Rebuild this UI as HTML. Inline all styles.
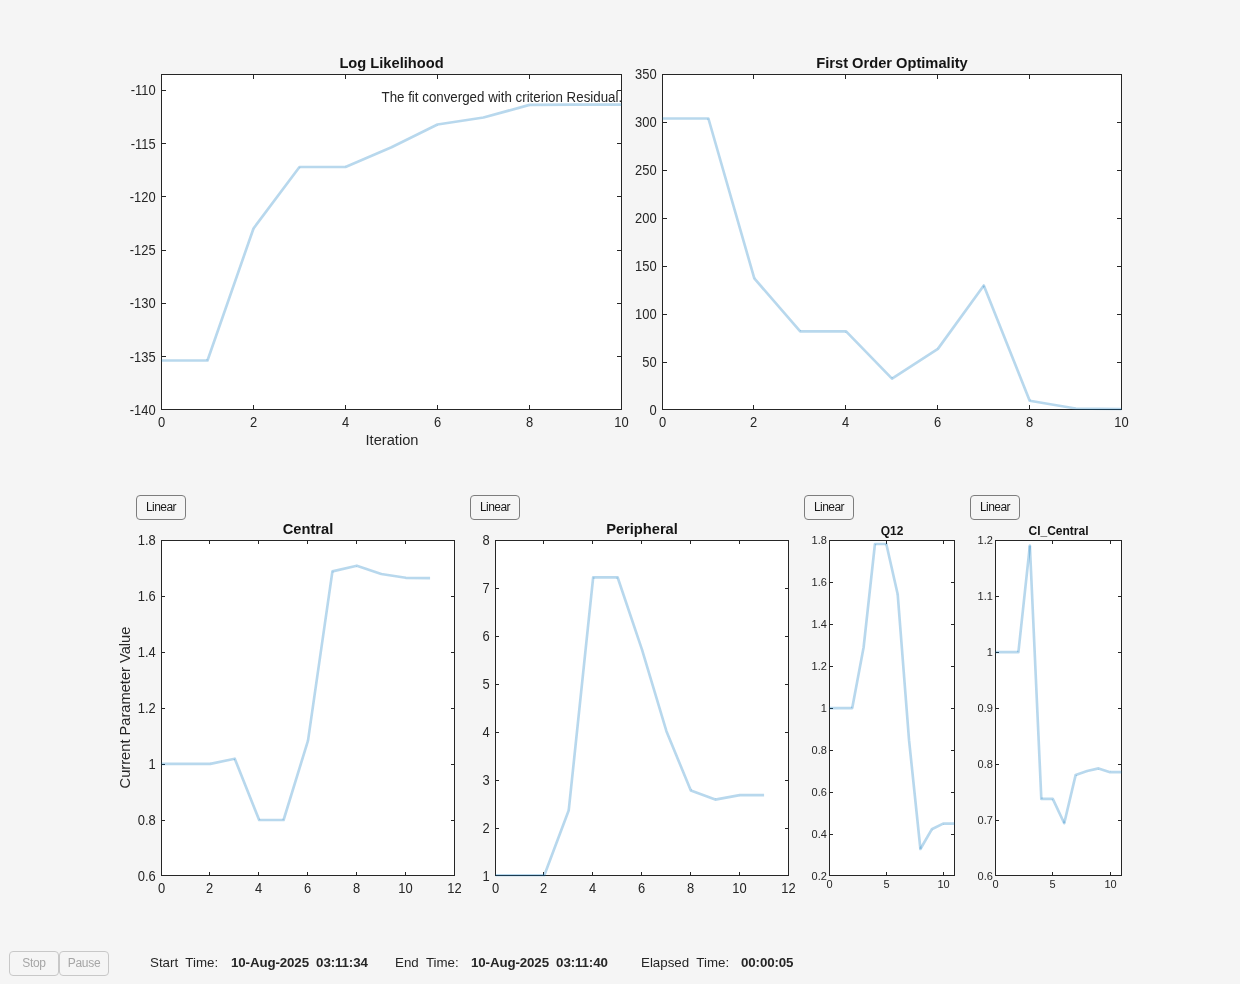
<!DOCTYPE html>
<html><head><meta charset="utf-8"><title>Fit Progress</title>
<style>
html,body{margin:0;padding:0;}
body{width:1240px;height:984px;background:#f5f5f5;position:relative;overflow:hidden;font-family:'Liberation Sans', Arial, Helvetica, sans-serif;}
.btn{position:absolute;box-sizing:border-box;height:25px;width:50px;border:1px solid #7d7d7d;border-radius:4px;background:#f5f5f5;
 font-size:12px;letter-spacing:-0.55px;color:#1a1a1a;display:flex;align-items:center;justify-content:center;top:495px;padding-bottom:2px;}
.dbtn{position:absolute;box-sizing:border-box;height:25px;width:50px;border:1px solid #c8c8c8;border-radius:4px;background:#f5f5f5;
 font-size:12px;letter-spacing:-0.3px;color:#a6a6a6;display:flex;align-items:center;justify-content:center;top:951px;padding-bottom:2px;}
.lbl{position:absolute;top:952.5px;font-size:13.33px;color:#262626;white-space:pre;line-height:20px;}
.val{font-weight:bold;letter-spacing:-0.12px;}
.ui{position:absolute;left:0;top:0;width:1240px;height:984px;will-change:transform;}
</style></head>
<body>
<svg width="1240" height="984" viewBox="0 0 1240 984" style="position:absolute;left:0;top:0;will-change:transform" font-family="'Liberation Sans', Arial, Helvetica, sans-serif"><defs><clipPath id="cll"><rect x="160.5" y="73.5" width="462.0" height="337.0"/></clipPath><clipPath id="cfo"><rect x="661.5" y="73.5" width="461.0" height="337.0"/></clipPath><clipPath id="cce"><rect x="160.5" y="539.5" width="295.0" height="337.0"/></clipPath><clipPath id="cpe"><rect x="494.5" y="539.5" width="295.0" height="337.0"/></clipPath><clipPath id="cq12"><rect x="828.5" y="539.5" width="127.0" height="337.0"/></clipPath><clipPath id="cci"><rect x="994.5" y="539.5" width="128.0" height="337.0"/></clipPath><clipPath id="cann"><rect x="161.5" y="74.5" width="459.5" height="335"/></clipPath></defs><rect x="161.5" y="74.5" width="460.0" height="335.0" fill="#fff"/><path d="M253.5 409.5v-4.5M253.5 74.5v4.5M345.5 409.5v-4.5M345.5 74.5v4.5M437.5 409.5v-4.5M437.5 74.5v4.5M529.5 409.5v-4.5M529.5 74.5v4.5M161.5 356.5h4.5M621.5 356.5h-4.5M161.5 303.5h4.5M621.5 303.5h-4.5M161.5 250.5h4.5M621.5 250.5h-4.5M161.5 196.5h4.5M621.5 196.5h-4.5M161.5 143.5h4.5M621.5 143.5h-4.5M161.5 90.5h4.5M621.5 90.5h-4.5" stroke="#262626" stroke-width="1" fill="none"/><rect x="161.5" y="74.5" width="460.0" height="335.0" fill="none" stroke="#262626" stroke-width="1"/><g font-size="13.33" fill="#262626"><text transform="translate(161.50 427.00) scale(0.97 1.07)" text-anchor="middle">0</text><text transform="translate(253.50 427.00) scale(0.97 1.07)" text-anchor="middle">2</text><text transform="translate(345.50 427.00) scale(0.97 1.07)" text-anchor="middle">4</text><text transform="translate(437.50 427.00) scale(0.97 1.07)" text-anchor="middle">6</text><text transform="translate(529.50 427.00) scale(0.97 1.07)" text-anchor="middle">8</text><text transform="translate(621.50 427.00) scale(0.97 1.07)" text-anchor="middle">10</text><text transform="translate(155.70 414.80) scale(0.97 1.07)" text-anchor="end">-140</text><text transform="translate(155.70 361.55) scale(0.97 1.07)" text-anchor="end">-135</text><text transform="translate(155.70 308.29) scale(0.97 1.07)" text-anchor="end">-130</text><text transform="translate(155.70 255.04) scale(0.97 1.07)" text-anchor="end">-125</text><text transform="translate(155.70 201.78) scale(0.97 1.07)" text-anchor="end">-120</text><text transform="translate(155.70 148.53) scale(0.97 1.07)" text-anchor="end">-115</text><text transform="translate(155.70 95.28) scale(0.97 1.07)" text-anchor="end">-110</text></g><text x="391.50" y="67.80" text-anchor="middle" font-size="14.67" font-weight="bold" fill="#141414">Log Likelihood</text><rect x="662.5" y="74.5" width="459.0" height="335.0" fill="#fff"/><path d="M753.5 409.5v-4.5M753.5 74.5v4.5M845.5 409.5v-4.5M845.5 74.5v4.5M937.5 409.5v-4.5M937.5 74.5v4.5M1029.5 409.5v-4.5M1029.5 74.5v4.5M662.5 362.5h4.5M1121.5 362.5h-4.5M662.5 314.5h4.5M1121.5 314.5h-4.5M662.5 266.5h4.5M1121.5 266.5h-4.5M662.5 218.5h4.5M1121.5 218.5h-4.5M662.5 170.5h4.5M1121.5 170.5h-4.5M662.5 122.5h4.5M1121.5 122.5h-4.5" stroke="#262626" stroke-width="1" fill="none"/><rect x="662.5" y="74.5" width="459.0" height="335.0" fill="none" stroke="#262626" stroke-width="1"/><g font-size="13.33" fill="#262626"><text transform="translate(662.50 427.00) scale(0.97 1.07)" text-anchor="middle">0</text><text transform="translate(753.50 427.00) scale(0.97 1.07)" text-anchor="middle">2</text><text transform="translate(845.50 427.00) scale(0.97 1.07)" text-anchor="middle">4</text><text transform="translate(937.50 427.00) scale(0.97 1.07)" text-anchor="middle">6</text><text transform="translate(1029.50 427.00) scale(0.97 1.07)" text-anchor="middle">8</text><text transform="translate(1121.50 427.00) scale(0.97 1.07)" text-anchor="middle">10</text><text transform="translate(656.70 414.80) scale(0.97 1.07)" text-anchor="end">0</text><text transform="translate(656.70 366.87) scale(0.97 1.07)" text-anchor="end">50</text><text transform="translate(656.70 318.94) scale(0.97 1.07)" text-anchor="end">100</text><text transform="translate(656.70 271.01) scale(0.97 1.07)" text-anchor="end">150</text><text transform="translate(656.70 223.09) scale(0.97 1.07)" text-anchor="end">200</text><text transform="translate(656.70 175.16) scale(0.97 1.07)" text-anchor="end">250</text><text transform="translate(656.70 127.23) scale(0.97 1.07)" text-anchor="end">300</text><text transform="translate(656.70 79.30) scale(0.97 1.07)" text-anchor="end">350</text></g><text x="892.00" y="67.80" text-anchor="middle" font-size="14.67" font-weight="bold" fill="#141414">First Order Optimality</text><rect x="161.5" y="540.5" width="293.0" height="335.0" fill="#fff"/><path d="M209.5 875.5v-3.5M209.5 540.5v3.5M258.5 875.5v-3.5M258.5 540.5v3.5M307.5 875.5v-3.5M307.5 540.5v3.5M356.5 875.5v-3.5M356.5 540.5v3.5M405.5 875.5v-3.5M405.5 540.5v3.5M161.5 820.5h3.5M454.5 820.5h-3.5M161.5 764.5h3.5M454.5 764.5h-3.5M161.5 708.5h3.5M454.5 708.5h-3.5M161.5 652.5h3.5M454.5 652.5h-3.5M161.5 596.5h3.5M454.5 596.5h-3.5" stroke="#262626" stroke-width="1" fill="none"/><rect x="161.5" y="540.5" width="293.0" height="335.0" fill="none" stroke="#262626" stroke-width="1"/><g font-size="13.33" fill="#262626"><text transform="translate(161.50 893.00) scale(0.97 1.07)" text-anchor="middle">0</text><text transform="translate(209.50 893.00) scale(0.97 1.07)" text-anchor="middle">2</text><text transform="translate(258.50 893.00) scale(0.97 1.07)" text-anchor="middle">4</text><text transform="translate(307.50 893.00) scale(0.97 1.07)" text-anchor="middle">6</text><text transform="translate(356.50 893.00) scale(0.97 1.07)" text-anchor="middle">8</text><text transform="translate(405.50 893.00) scale(0.97 1.07)" text-anchor="middle">10</text><text transform="translate(454.50 893.00) scale(0.97 1.07)" text-anchor="middle">12</text><text transform="translate(155.70 880.80) scale(0.97 1.07)" text-anchor="end">0.6</text><text transform="translate(155.70 824.88) scale(0.97 1.07)" text-anchor="end">0.8</text><text transform="translate(155.70 768.97) scale(0.97 1.07)" text-anchor="end">1</text><text transform="translate(155.70 713.05) scale(0.97 1.07)" text-anchor="end">1.2</text><text transform="translate(155.70 657.13) scale(0.97 1.07)" text-anchor="end">1.4</text><text transform="translate(155.70 601.22) scale(0.97 1.07)" text-anchor="end">1.6</text><text transform="translate(155.70 545.30) scale(0.97 1.07)" text-anchor="end">1.8</text></g><text x="308.00" y="533.80" text-anchor="middle" font-size="14.67" font-weight="bold" fill="#141414">Central</text><rect x="495.5" y="540.5" width="293.0" height="335.0" fill="#fff"/><path d="M543.5 875.5v-3.5M543.5 540.5v3.5M592.5 875.5v-3.5M592.5 540.5v3.5M641.5 875.5v-3.5M641.5 540.5v3.5M690.5 875.5v-3.5M690.5 540.5v3.5M739.5 875.5v-3.5M739.5 540.5v3.5M495.5 828.5h3.5M788.5 828.5h-3.5M495.5 780.5h3.5M788.5 780.5h-3.5M495.5 732.5h3.5M788.5 732.5h-3.5M495.5 684.5h3.5M788.5 684.5h-3.5M495.5 636.5h3.5M788.5 636.5h-3.5M495.5 588.5h3.5M788.5 588.5h-3.5" stroke="#262626" stroke-width="1" fill="none"/><rect x="495.5" y="540.5" width="293.0" height="335.0" fill="none" stroke="#262626" stroke-width="1"/><g font-size="13.33" fill="#262626"><text transform="translate(495.50 893.00) scale(0.97 1.07)" text-anchor="middle">0</text><text transform="translate(543.50 893.00) scale(0.97 1.07)" text-anchor="middle">2</text><text transform="translate(592.50 893.00) scale(0.97 1.07)" text-anchor="middle">4</text><text transform="translate(641.50 893.00) scale(0.97 1.07)" text-anchor="middle">6</text><text transform="translate(690.50 893.00) scale(0.97 1.07)" text-anchor="middle">8</text><text transform="translate(739.50 893.00) scale(0.97 1.07)" text-anchor="middle">10</text><text transform="translate(788.50 893.00) scale(0.97 1.07)" text-anchor="middle">12</text><text transform="translate(489.70 880.80) scale(0.97 1.07)" text-anchor="end">1</text><text transform="translate(489.70 832.87) scale(0.97 1.07)" text-anchor="end">2</text><text transform="translate(489.70 784.94) scale(0.97 1.07)" text-anchor="end">3</text><text transform="translate(489.70 737.01) scale(0.97 1.07)" text-anchor="end">4</text><text transform="translate(489.70 689.09) scale(0.97 1.07)" text-anchor="end">5</text><text transform="translate(489.70 641.16) scale(0.97 1.07)" text-anchor="end">6</text><text transform="translate(489.70 593.23) scale(0.97 1.07)" text-anchor="end">7</text><text transform="translate(489.70 545.30) scale(0.97 1.07)" text-anchor="end">8</text></g><text x="642.00" y="533.80" text-anchor="middle" font-size="14.67" font-weight="bold" fill="#141414">Peripheral</text><rect x="829.5" y="540.5" width="125.0" height="335.0" fill="#fff"/><path d="M886.5 875.5v-3.5M886.5 540.5v3.5M943.5 875.5v-3.5M943.5 540.5v3.5M829.5 834.5h3.5M954.5 834.5h-3.5M829.5 792.5h3.5M954.5 792.5h-3.5M829.5 750.5h3.5M954.5 750.5h-3.5M829.5 708.5h3.5M954.5 708.5h-3.5M829.5 666.5h3.5M954.5 666.5h-3.5M829.5 624.5h3.5M954.5 624.5h-3.5M829.5 582.5h3.5M954.5 582.5h-3.5" stroke="#262626" stroke-width="1" fill="none"/><rect x="829.5" y="540.5" width="125.0" height="335.0" fill="none" stroke="#262626" stroke-width="1"/><g font-size="11" fill="#262626"><text transform="translate(829.50 887.70)" text-anchor="middle">0</text><text transform="translate(886.50 887.70)" text-anchor="middle">5</text><text transform="translate(943.50 887.70)" text-anchor="middle">10</text><text transform="translate(826.90 879.90)" text-anchor="end">0.2</text><text transform="translate(826.90 837.96)" text-anchor="end">0.4</text><text transform="translate(826.90 796.02)" text-anchor="end">0.6</text><text transform="translate(826.90 754.09)" text-anchor="end">0.8</text><text transform="translate(826.90 712.15)" text-anchor="end">1</text><text transform="translate(826.90 670.21)" text-anchor="end">1.2</text><text transform="translate(826.90 628.27)" text-anchor="end">1.4</text><text transform="translate(826.90 586.34)" text-anchor="end">1.6</text><text transform="translate(826.90 544.40)" text-anchor="end">1.8</text></g><text x="892.00" y="534.50" text-anchor="middle" font-size="12" font-weight="bold" fill="#141414">Q12</text><rect x="995.5" y="540.5" width="126.0" height="335.0" fill="#fff"/><path d="M1052.5 875.5v-3.5M1052.5 540.5v3.5M1110.5 875.5v-3.5M1110.5 540.5v3.5M995.5 820.5h3.5M1121.5 820.5h-3.5M995.5 764.5h3.5M1121.5 764.5h-3.5M995.5 708.5h3.5M1121.5 708.5h-3.5M995.5 652.5h3.5M1121.5 652.5h-3.5M995.5 596.5h3.5M1121.5 596.5h-3.5" stroke="#262626" stroke-width="1" fill="none"/><rect x="995.5" y="540.5" width="126.0" height="335.0" fill="none" stroke="#262626" stroke-width="1"/><g font-size="11" fill="#262626"><text transform="translate(995.50 887.70)" text-anchor="middle">0</text><text transform="translate(1052.50 887.70)" text-anchor="middle">5</text><text transform="translate(1110.50 887.70)" text-anchor="middle">10</text><text transform="translate(992.90 879.90)" text-anchor="end">0.6</text><text transform="translate(992.90 823.98)" text-anchor="end">0.7</text><text transform="translate(992.90 768.07)" text-anchor="end">0.8</text><text transform="translate(992.90 712.15)" text-anchor="end">0.9</text><text transform="translate(992.90 656.23)" text-anchor="end">1</text><text transform="translate(992.90 600.32)" text-anchor="end">1.1</text><text transform="translate(992.90 544.40)" text-anchor="end">1.2</text></g><text x="1058.50" y="534.50" text-anchor="middle" font-size="12" font-weight="bold" fill="#141414">CI_Central</text><g clip-path="url(#cann)"><text transform="translate(381.5 101.8) scale(1 1.07)" font-size="13.33" fill="#262626">The fit converged with criterion Residual.</text></g><g clip-path="url(#cll)"><polyline points="161.50,360.50 207.50,360.50 253.50,228.50 299.50,167.00 345.50,167.00 391.50,147.20 437.50,124.50 483.50,117.50 529.50,104.90 575.50,104.60 621.50,104.60" fill="none" stroke="#0072BD" stroke-opacity="0.28" stroke-width="2.67" stroke-linejoin="round"/><path d="M206.24 360.06L207.50 360.50L207.50 359.17L206.55 359.17ZM254.57 229.30L254.69 229.13L254.76 228.94L253.50 228.50ZM299.50 168.34L300.17 168.34L300.57 167.80L299.50 167.00ZM344.97 165.77L345.50 167.00L345.50 165.66L345.22 165.66ZM437.70 125.82L437.91 125.79L438.09 125.70L437.50 124.50ZM483.15 116.21L483.50 117.50L483.30 116.18L483.22 116.19ZM529.51 106.23L529.68 106.23L529.85 106.19L529.50 104.90Z" fill="#0072BD" fill-opacity="0.28"/></g><g clip-path="url(#cfo)"><polyline points="662.50,118.50 708.40,118.50 754.30,278.40 800.20,331.40 846.10,331.40 892.00,378.60 937.90,348.90 983.80,285.50 1029.70,400.80 1075.60,408.50 1121.50,409.20" fill="none" stroke="#0072BD" stroke-opacity="0.28" stroke-width="2.67" stroke-linejoin="round"/><path d="M707.12 118.87L707.39 119.83L708.40 119.83L708.40 118.50ZM755.31 277.53L754.30 278.40L755.58 278.03L755.50 277.75ZM800.20 330.06L800.20 331.40L801.21 330.53L800.81 330.06ZM845.14 332.33L845.54 332.73L846.10 332.73L846.10 331.40ZM891.27 377.48L892.00 378.60L892.96 377.67L892.19 376.88ZM936.82 348.12L937.90 348.90L937.17 347.78L936.97 347.91ZM982.56 285.99L983.46 288.25L984.88 286.28L983.80 285.50ZM1029.92 399.48L1029.70 400.80L1030.94 400.31L1030.66 399.61ZM1075.62 407.17L1075.60 408.50L1075.82 407.18L1075.72 407.17Z" fill="#0072BD" fill-opacity="0.28"/></g><g clip-path="url(#cce)"><polyline points="161.50,763.90 185.92,763.90 210.33,763.90 234.75,758.70 259.17,820.00 283.58,820.00 308.00,740.60 332.42,571.40 356.83,565.70 381.25,574.00 405.67,577.80 430.08,578.10" fill="none" stroke="#0072BD" stroke-opacity="0.28" stroke-width="2.67" stroke-linejoin="round"/><path d="M210.06 762.59L210.33 763.90L210.33 762.56L210.19 762.56ZM233.51 759.19L233.93 760.24L235.03 760.01L234.75 758.70ZM259.17 818.66L259.17 820.00L260.41 819.51L260.07 818.66ZM282.31 819.61L283.58 820.00L283.58 818.66L282.60 818.66ZM306.68 740.41L308.00 740.60L306.72 740.21L306.69 740.31ZM332.72 572.70L333.61 572.49L333.74 571.59L332.42 571.40ZM356.40 566.96L356.77 567.09L357.14 567.00L356.83 565.70ZM381.46 572.68L381.25 574.00L381.68 572.74L381.57 572.70ZM405.68 576.47L405.67 577.80L405.87 576.48L405.78 576.47Z" fill="#0072BD" fill-opacity="0.28"/></g><g clip-path="url(#cpe)"><polyline points="495.50,875.30 519.92,875.30 544.33,875.30 568.75,810.20 593.17,577.30 617.58,577.30 642.00,649.60 666.42,731.20 690.83,790.60 715.25,799.60 739.67,795.10 764.08,795.10" fill="none" stroke="#0072BD" stroke-opacity="0.28" stroke-width="2.67" stroke-linejoin="round"/><path d="M543.08 874.83L544.33 875.30L544.33 873.96L543.41 873.96ZM567.42 810.06L568.75 810.20L567.50 809.73L567.44 809.89ZM593.17 578.63L594.37 578.63L594.49 577.44L593.17 577.30ZM616.32 577.73L616.63 578.63L617.58 578.63L617.58 577.30ZM667.65 730.69L666.42 731.20L667.70 730.82L667.68 730.75ZM691.30 789.35L690.83 790.60L692.07 790.09L691.85 789.55ZM715.01 798.29L715.25 799.60L715.71 798.35L715.37 798.22ZM739.67 796.44L739.79 796.44L739.91 796.41L739.67 795.10Z" fill="#0072BD" fill-opacity="0.28"/></g><g clip-path="url(#cq12)"><polyline points="829.50,708.10 840.86,708.10 852.23,708.10 863.59,647.50 874.95,544.00 886.32,544.00 897.68,594.20 909.05,740.20 920.41,849.00 931.77,829.30 943.14,823.60 954.50,823.60" fill="none" stroke="#0072BD" stroke-opacity="0.28" stroke-width="2.67" stroke-linejoin="round"/><path d="M850.92 707.85L852.23 708.10L852.23 706.76L851.12 706.76ZM862.26 647.35L863.59 647.50L862.28 647.25L862.27 647.30ZM874.95 545.34L876.15 545.34L876.28 544.15L874.95 544.00ZM885.02 544.29L885.25 545.34L886.32 545.34L886.32 544.00ZM896.35 594.30L896.36 594.40L896.38 594.49L897.68 594.20ZM919.25 848.33L920.41 849.00L921.74 848.86L921.31 844.77ZM932.37 830.49L932.73 830.31L932.93 829.97L931.77 829.30ZM943.14 824.94L943.45 824.94L943.73 824.79L943.14 823.60Z" fill="#0072BD" fill-opacity="0.28"/></g><g clip-path="url(#cci)"><polyline points="995.50,652.10 1006.95,652.10 1018.41,652.10 1029.86,545.70 1041.32,798.90 1052.77,798.90 1064.23,823.20 1075.68,774.90 1087.14,771.00 1098.59,768.40 1110.05,772.20 1121.50,772.20" fill="none" stroke="#0072BD" stroke-opacity="0.28" stroke-width="2.67" stroke-linejoin="round"/><path d="M1017.08 651.96L1018.41 652.10L1018.41 650.76L1017.21 650.76ZM1028.53 545.76L1029.32 563.22L1031.19 545.84L1029.86 545.70ZM1041.32 797.56L1041.32 798.90L1042.65 798.84L1042.59 797.56ZM1051.57 799.47L1051.93 800.24L1052.77 800.24L1052.77 798.90ZM1062.93 822.89L1064.23 823.20L1065.43 822.63L1063.81 819.18ZM1076.11 776.16L1076.81 775.93L1076.98 775.21L1075.68 774.90ZM1087.43 772.30L1087.50 772.29L1087.57 772.26L1087.14 771.00ZM1098.17 769.67L1098.52 769.78L1098.89 769.70L1098.59 768.40ZM1110.05 770.87L1110.05 772.20L1110.47 770.93L1110.26 770.87Z" fill="#0072BD" fill-opacity="0.28"/></g><text x="392" y="444.8" text-anchor="middle" font-size="14.67" fill="#262626">Iteration</text><text transform="translate(130.1 707.5) rotate(-90)" text-anchor="middle" font-size="14.67" fill="#262626">Current Parameter Value</text></svg>
<div class="ui">
<div class="btn" style="left:136px">Linear</div>
<div class="btn" style="left:470px">Linear</div>
<div class="btn" style="left:804px">Linear</div>
<div class="btn" style="left:970px">Linear</div>
<div class="dbtn" style="left:9px">Stop</div>
<div class="dbtn" style="left:59px">Pause</div>
<div class="lbl" style="left:150px">Start  Time:</div>
<div class="lbl val" style="left:231px">10-Aug-2025  03:11:34</div>
<div class="lbl" style="left:395px">End  Time:</div>
<div class="lbl val" style="left:471px">10-Aug-2025  03:11:40</div>
<div class="lbl" style="left:641px">Elapsed  Time:</div>
<div class="lbl val" style="left:741px">00:00:05</div>
</div>
</body></html>
